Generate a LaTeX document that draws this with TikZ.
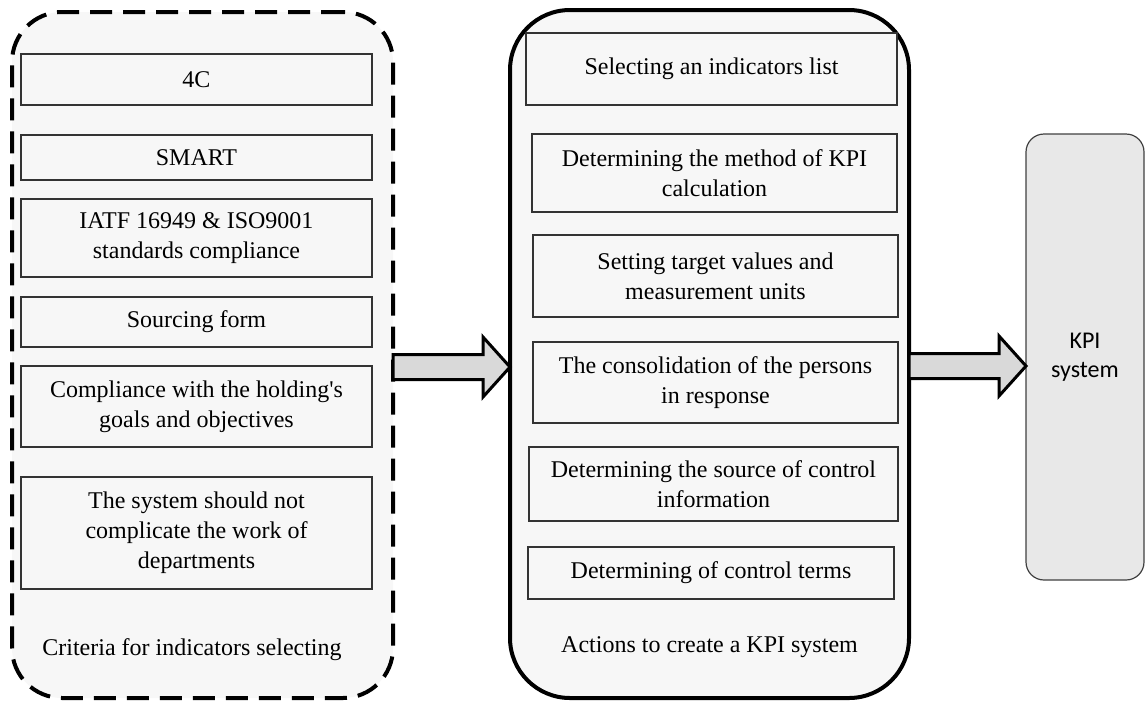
\documentclass[tikz,border=0pt]{standalone}
\usepackage{fontspec}
\setmainfont{Liberation Serif}
\newfontfamily\kpifont{Carlito}
\usetikzlibrary{calc}

\newcommand{\blockarrow}[2]{%
  \draw[blockarr] let \p1=(#1), \p2=(#2) in
    (\x1,\y1+12.5pt) -- (\x2-27pt,\y1+12.5pt) -- (\x2-27pt,\y1+30pt) -- (\x2,\y1)
    -- (\x2-27pt,\y1-30pt) -- (\x2-27pt,\y1-12.5pt) -- (\x1,\y1-12.5pt) -- cycle;}

\begin{document}
\begin{tikzpicture}[x=1pt,y=-1pt,
	every node/.style={font=\fontsize{24}{30}\selectfont, align=center, inner sep=0pt, outer sep=0pt},
	container/.style={draw=black, line width=4pt, fill=black!3},
	item/.style={draw=black!80, line width=1.2pt, fill=black!3},
	blockarr/.style={draw=black, line width=3pt, fill=black!15, miter limit=10}]
		\useasboundingbox (0,0) rectangle (1145,702);
		\node[container, dash pattern=on 22pt off 11pt, rounded corners=50pt, minimum width=381pt, minimum height=686pt] (crit) at (202.5,355) {};
		\node[container, rounded corners=60pt, minimum width=399pt, minimum height=688pt] (act) at (709.5,354) {};
		\node[draw=black!75, line width=1.2pt, fill=black!9, rounded corners=18pt, minimum width=118pt, minimum height=446pt, font=\kpifont\fontsize{24}{29}\selectfont] (kpi) at (1085,357) {KPI\\system};
		% criteria
		\node[item, minimum width=351pt, minimum height=51pt] (c4) at (196.5,79.5) {4C};
		\node[item, minimum width=351pt, minimum height=45pt] (smart) at (196.5,157.5) {SMART};
		\node[item, minimum width=351pt, minimum height=78pt] (iatf) at (196.5,238) {IATF 16949 \& ISO9001\\standards compliance};
		\node[item, minimum width=351pt, minimum height=50pt] (sourcing) at (196.5,322) {Sourcing form};
		\node[item, minimum width=351pt, minimum height=81pt] (goals) at (196.5,406.5) {Compliance with the holding\textquotesingle s\\goals and objectives};
		\node[item, minimum width=351pt, minimum height=112pt] (depts) at (196.5,533) {The system should not\\complicate the work of\\departments};
		\node (critlabel) at (192,650) {Criteria for indicators selecting};
		% actions
		\node[item, minimum width=371pt, minimum height=72pt] (list) at (711.5,69) {Selecting an indicators list};
		\node[item, minimum width=365pt, minimum height=78pt] (method) at (714.5,173) {Determining the method of KPI\\calculation};
		\node[item, minimum width=365pt, minimum height=82pt] (target) at (715.5,276) {Setting target values and\\measurement units};
		\node[item, minimum width=365pt, minimum height=81pt] (persons) at (715.5,382.5) {The consolidation of the persons\\in response};
		\node[item, minimum width=369pt, minimum height=74pt] (info) at (713.5,484) {Determining the source of control\\information};
		\node[item, minimum width=366pt, minimum height=52pt] (terms) at (711,573) {Determining of control terms};
		\node (actlabel) at (709.5,647) {Actions to create a KPI system};
		\blockarrow{[yshift=-12pt]crit.east}{act.west}
		\blockarrow{[yshift=-12pt]act.east}{kpi.west}
	\end{tikzpicture}
\end{document}
